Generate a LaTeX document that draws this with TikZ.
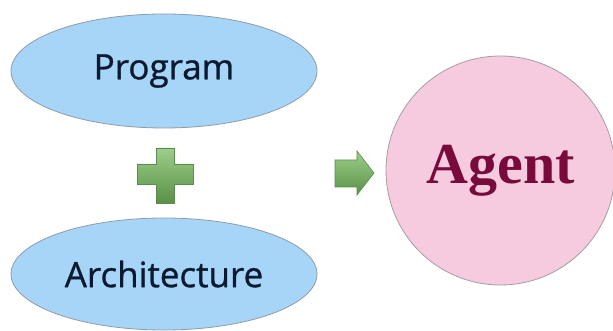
\documentclass[tikz,border=0pt]{standalone}
\usepackage{fontspec}
\newfontfamily\labelfont{Open Sans}[FakeBold=0.9]
\newfontfamily\agentfont{Liberation Serif}
\usetikzlibrary{shapes.geometric}
\definecolor{bluefill}{HTML}{A7D5F8}
\definecolor{blueedge}{HTML}{8E9CA8}
\definecolor{pinkfill}{HTML}{F6CBE0}
\definecolor{pinkedge}{HTML}{A89CA4}
\definecolor{navytext}{HTML}{0B1A30}
\definecolor{maroontext}{HTML}{780A3C}
\definecolor{greentop}{HTML}{9CCF8A}
\definecolor{greenbot}{HTML}{5A9146}
\definecolor{greenedge}{HTML}{5E8A50}
\tikzset{
  inputbox/.style={ellipse, draw=blueedge, line width=0.8pt, fill=bluefill,
    minimum width=306pt, minimum height=114pt, inner sep=0pt,
    font=\labelfont\fontsize{35}{40}\selectfont, text=navytext},
  resultbox/.style={circle, draw=pinkedge, line width=0.8pt, fill=pinkfill,
    minimum size=229pt, inner sep=0pt,
    font=\agentfont\bfseries\fontsize{58}{62}\selectfont, text=maroontext},
  greenshape/.style={draw=greenedge, line width=0.6pt,
    top color=greentop, bottom color=greenbot},
}
\begin{document}
\begin{tikzpicture}[x=1pt, y=-1pt]
  \useasboundingbox (0,0) rectangle (613,331);
  \fill[white] (0,0) rectangle (613,331);

  % the two inputs
  \node[inputbox] (program) at (164,71) {Program};
  \node[inputbox, minimum height=112pt] (architecture) at (164,274) {Architecture};

  % the result
  \node[resultbox] (agent) at (500.5,170.5) {Agent};

  % plus sign between the inputs
  \coordinate (plus) at (165,174);
  \path[greenshape]
    ([shift={(-9,-26)}]plus) -- ([shift={(9,-26)}]plus) -- ([shift={(9,-10)}]plus)
    -- ([shift={(28,-10)}]plus) -- ([shift={(28,10)}]plus) -- ([shift={(9,10)}]plus)
    -- ([shift={(9,29)}]plus) -- ([shift={(-9,29)}]plus) -- ([shift={(-9,10)}]plus)
    -- ([shift={(-28,10)}]plus) -- ([shift={(-28,-10)}]plus) -- ([shift={(-9,-10)}]plus)
    -- cycle;

  % block arrow pointing at the agent
  \coordinate (arrowbase) at (335,173);
  \path[greenshape]
    ([shift={(0,-13)}]arrowbase) -- ([shift={(22,-13)}]arrowbase)
    -- ([shift={(22,-22)}]arrowbase) -- ([shift={(39,0)}]arrowbase)
    -- ([shift={(22,22)}]arrowbase) -- ([shift={(22,14)}]arrowbase)
    -- ([shift={(0,14)}]arrowbase) -- cycle;
\end{tikzpicture}
\end{document}
